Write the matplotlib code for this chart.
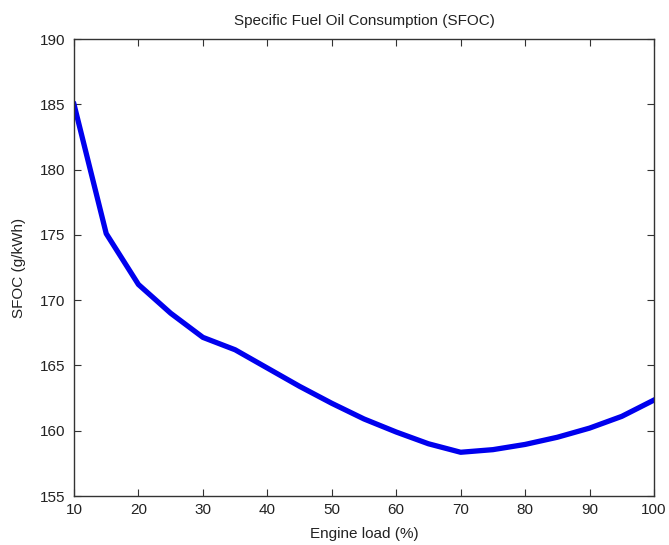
import matplotlib
matplotlib.use("Agg")
import matplotlib.pyplot as plt

load = [10, 15, 20, 25, 30, 35, 40, 45, 50, 55, 60, 65, 70, 75, 80, 85, 90, 95, 100]
sfoc = [185.0, 175.1, 171.2, 169.0, 167.15, 166.2, 164.8, 163.4, 162.1, 160.9,
        159.9, 159.0, 158.35, 158.55, 158.95, 159.5, 160.2, 161.1, 162.35]
xticks = [10, 20, 30, 40, 50, 60, 70, 80, 90, 100]
yticks = [155, 160, 165, 170, 175, 180, 185, 190]

plt.rcParams['font.family'] = ['Liberation Sans', 'DejaVu Sans']
fig = plt.figure(figsize=(6.69, 5.45), dpi=100)
ax = fig.add_axes([0.1106, 0.0899, 0.8670, 0.8385])
ax.plot(load, sfoc, color='#0000ee', linewidth=3.8, solid_joinstyle='round')
ax.set_xlim(10, 100)
ax.set_ylim(155, 190)
ax.set_xticks(xticks)
ax.set_yticks(yticks)
ax.tick_params(direction='in', top=True, right=True, labelsize=11, length=5,
               color='#333333', labelcolor='#222222')
ax.tick_params(axis='x', pad=5)
ax.tick_params(axis='y', pad=6)
for s in ax.spines.values():
    s.set_color('#333333')
    s.set_linewidth(1.0)
ax.set_title('Specific Fuel Oil Consumption (SFOC)', fontsize=11, color='#222222', pad=10)
ax.set_xlabel('Engine load (%)', fontsize=11, color='#222222', labelpad=7)
ax.set_ylabel('SFOC (g/kWh)', fontsize=11, color='#222222', labelpad=10)
fig.savefig('out.png', dpi=100)
